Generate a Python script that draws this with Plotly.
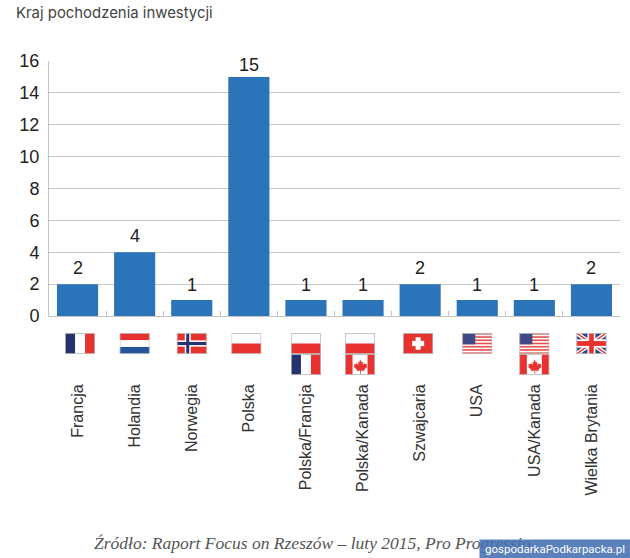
import base64
import plotly.graph_objects as go

categories = ["Francja", "Holandia", "Norwegia", "Polska", "Polska/Francja", "Polska/Kanada",
              "Szwajcaria", "USA", "USA/Kanada", "Wielka Brytania"]
values = [2, 4, 1, 15, 1, 1, 2, 1, 1, 2]
label_lift = [16, 16, 15, 12, 15, 15, 16, 15, 15, 16]
flag_sets = [["fr"], ["nl"], ["no"], ["pl"], ["pl", "fr"], ["pl", "ca"], ["ch"], ["us"], ["us", "ca"], ["gb"]]
flag_shift = [2.5, 0, 0, -2.5, 0, -3, -2, 0, 0, 0]
tick_values = list(range(0, 17, 2))

title_text = "Kraj pochodzenia inwestycji"
source_text = "Źródło: Raport Focus on Rzeszów – luty 2015, Pro Progressio"
badge_text = "gospodarkaPodkarpacka.pl"

W, H = 630, 558
LEFT, RIGHT, TOP, BOTTOM = 49, 620, 61, 316
RED, NAVY, BLUE = "#e8322f", "#25346f", "#2b74b9"


def px(x):
    return (x - LEFT) / (RIGHT - LEFT)


def py(y):
    return (BOTTOM - y) / (BOTTOM - TOP)


def maple():
    return ('<path d="M15 5 l1.6 3 1.4-.8 -.5 3.4 2-2 .5 1.2 2-.3 -.6 2 1 .6 -3.4 2.8 .4 1.4 -3.5-.5 v3 h-.8 v-3 '
            'l-3.5.5 .4-1.4 -3.4-2.8 1-.6 -.6-2 2 .3 .5-1.2 2 2 -.5-3.4 1.4.8z" fill="%s"/>' % RED)


def flag_svg(code):
    b = ""
    if code == "fr":
        b = f'<rect width="10" height="20" fill="{NAVY}"/><rect x="20" width="10" height="20" fill="{RED}"/>'
    elif code == "nl":
        b = f'<rect width="30" height="6.7" fill="{RED}"/><rect y="13.3" width="30" height="6.7" fill="#24559b"/>'
    elif code == "no":
        b = (f'<rect width="30" height="20" fill="{RED}"/><rect x="8" width="6" height="20" fill="#fff"/>'
             f'<rect y="7" width="30" height="6" fill="#fff"/><rect x="9.5" width="3" height="20" fill="{NAVY}"/>'
             f'<rect y="8.5" width="30" height="3" fill="{NAVY}"/>')
    elif code == "pl":
        b = f'<rect y="10" width="30" height="10" fill="{RED}"/>'
    elif code == "ca":
        b = f'<rect width="7.5" height="20" fill="{RED}"/><rect x="22.5" width="7.5" height="20" fill="{RED}"/>' + maple()
    elif code == "ch":
        b = (f'<rect width="30" height="20" fill="{RED}"/><rect x="12.5" y="4" width="5" height="12" fill="#fff"/>'
             f'<rect x="9" y="7.5" width="12" height="5" fill="#fff"/>')
    elif code == "us":
        for i in range(0, 13, 2):
            b += f'<rect y="{i * 20 / 13:.2f}" width="30" height="1.54" fill="#e4514f"/>'
        b += '<rect width="13" height="10.8" fill="#3f4a86"/>'
    elif code == "gb":
        b = ('<rect width="30" height="20" fill="#2f4486"/>'
             '<path d="M0 0L30 20M30 0L0 20" stroke="#fff" stroke-width="4"/>'
             f'<path d="M0 0L30 20M30 0L0 20" stroke="{RED}" stroke-width="1.4"/>'
             '<rect x="11" width="8" height="20" fill="#fff"/><rect y="6" width="30" height="8" fill="#fff"/>'
             f'<rect x="12.7" width="4.6" height="20" fill="{RED}"/><rect y="7.7" width="30" height="4.6" fill="{RED}"/>')
    svg = ('<svg xmlns="http://www.w3.org/2000/svg" width="30" height="20" viewBox="0 0 30 20" preserveAspectRatio="none">'
           f'<rect width="30" height="20" fill="#fff"/>{b}'
           '<rect x=".4" y=".4" width="29.2" height="19.2" fill="none" stroke="#bdbdbd" stroke-width=".8"/></svg>')
    return "data:image/svg+xml;base64," + base64.b64encode(svg.encode()).decode()


fig = go.Figure(go.Bar(x=categories, y=values, marker=dict(color=BLUE, line=dict(width=0)), width=0.72))

plot_w, plot_h = RIGHT - LEFT, BOTTOM - TOP
images = []
for i, flags in enumerate(flag_sets):
    for j, code in enumerate(flags):
        images.append(dict(source=flag_svg(code), xref="paper", yref="paper",
                           x=(i + 0.5) / len(categories) + flag_shift[i] / plot_w, xanchor="center",
                           y=py(333 + j * 21), yanchor="top",
                           sizex=30 / plot_w, sizey=21 / plot_h, sizing="stretch", layer="above"))

annotations = [
    dict(text=str(v), x=c, y=v, xref="x", yref="y", yshift=lift, yanchor="middle", showarrow=False,
         font=dict(family="Liberation Sans", size=18, color="#222"))
    for c, v, lift in zip(categories, values, label_lift)
]
annotations += [
    dict(text=title_text, xref="paper", yref="paper", x=px(14), xanchor="left", y=py(13), yanchor="middle",
         showarrow=False, font=dict(family="Inter", size=14.9, color="#444")),
    dict(text="<i>" + source_text + "</i>", xref="paper", yref="paper", x=px(92), xanchor="left",
         y=py(543), yanchor="middle", showarrow=False,
         font=dict(family="Liberation Serif", size=17.5, color="#555")),
    dict(text=badge_text, xref="paper", yref="paper", x=px(555), xanchor="center", y=py(549), yanchor="middle",
         showarrow=False, bgcolor="rgba(68,112,180,0.88)", width=148, height=16, borderpad=1,
         font=dict(family="Roboto", size=11.5, color="#fff")),
]

fig.update_layout(
    width=W, height=H, autosize=False, showlegend=False,
    margin=dict(l=LEFT, r=W - RIGHT, t=TOP, b=H - BOTTOM),
    paper_bgcolor="#fff", plot_bgcolor="#fff",
    images=images, annotations=annotations,
    xaxis=dict(type="category", range=[-0.5, 9.5], showgrid=False, showline=True, linecolor="#c4c4c4",
               linewidth=1, ticks="inside", tickson="boundaries", ticklen=5, tickcolor="#c4c4c4",
               tickangle=-90, ticklabelstandoff=61,
               tickfont=dict(family="Liberation Sans", size=16, color="#333")),
    yaxis=dict(range=[0, 16], tickvals=tick_values, showgrid=True, gridcolor="#c8c8c8", gridwidth=1,
               showline=True, linecolor="#c4c4c4", zeroline=False, ticks="", ticklabelstandoff=5,
               tickfont=dict(family="Liberation Sans", size=18, color="#222")),
)
fig.write_html("out.html", config={"displayModeBar": False}, post_script=(
    "document.body.style.margin='0';document.documentElement.style.overflow='hidden';"
))
